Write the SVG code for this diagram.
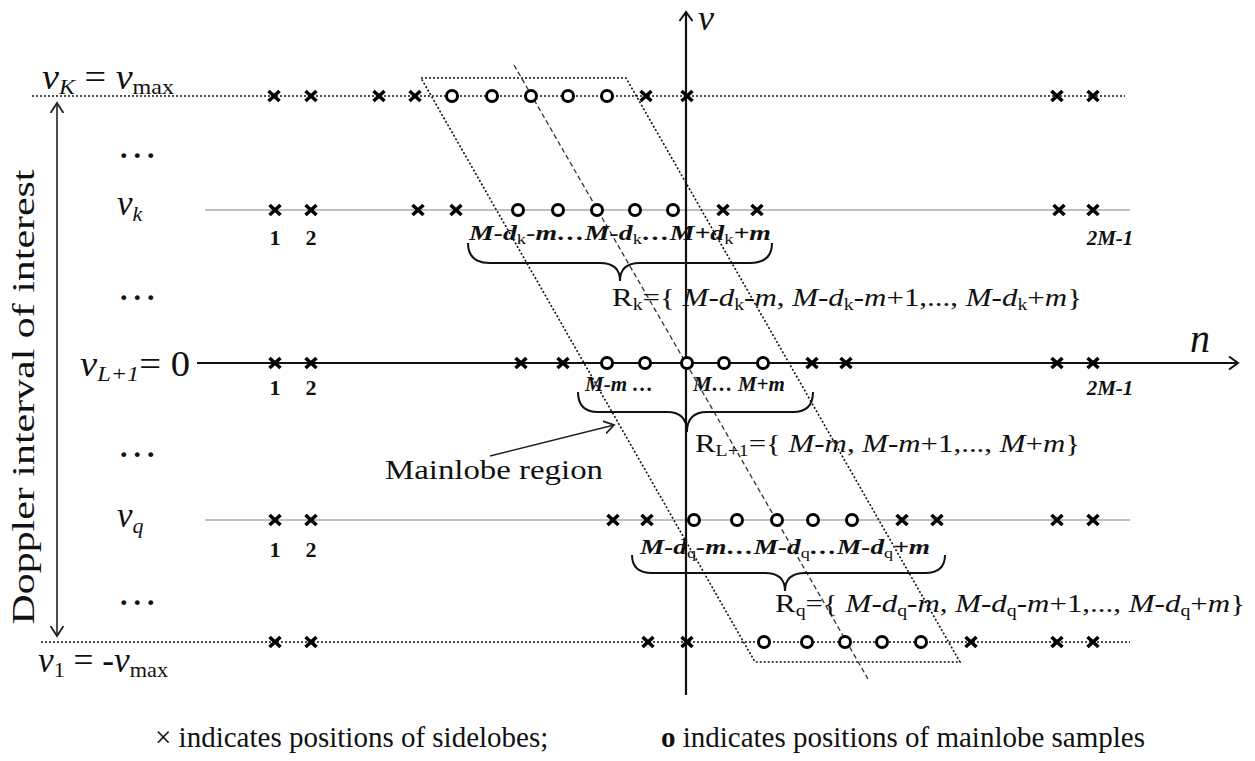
<svg xmlns="http://www.w3.org/2000/svg" width="1255" height="761" viewBox="0 0 1255 761">
<style>
text{font-family:"Liberation Serif","DejaVu Serif",serif;fill:#111}
.it{font-style:italic}
.bi{font-style:italic;font-weight:bold;font-size:21px}
.num{font-weight:bold;font-size:22px}
.big{font-size:35px}
.r{font-size:25px}
.dots{font-size:30px;font-weight:bold;letter-spacing:6px}
.dot{fill:none;stroke:#111;stroke-width:1.6;stroke-dasharray:2 2}
.gray{stroke:#aaa;stroke-width:1.5;fill:none}
.ax{stroke:#111;stroke-width:2.2;fill:none}
.thin{stroke:#222;stroke-width:1.6;fill:none}
.brace{stroke:#111;stroke-width:2;fill:none}
.dsh{stroke:#333;stroke-width:1.3;stroke-dasharray:5 3;fill:none}
.leg{font-size:29px}
</style>
<defs>
<path id="cx" d="M-5.5,-5L5.5,5M-5.5,5L5.5,-5" stroke="#000" stroke-width="3.6"/>
<circle id="co" r="5.5" fill="#fff" stroke="#000" stroke-width="3"/>
<marker id="chev" viewBox="-10 -8 12 16" refX="0" refY="0" markerWidth="12" markerHeight="16" markerUnits="userSpaceOnUse" orient="auto">
<path d="M-9,-6.5L0,0L-9,6.5" fill="none" stroke="#111" stroke-width="2"/>
</marker>
<marker id="chevs" viewBox="-10 -8 12 16" refX="0" refY="0" markerWidth="12" markerHeight="16" markerUnits="userSpaceOnUse" orient="auto-start-reverse">
<path d="M-10,-6.5L0,0L-10,6.5" fill="none" stroke="#222" stroke-width="1.8"/>
</marker>
</defs>
<rect width="1255" height="761" fill="#fff"/>

<g id="connectors">
<line class="dot" x1="32" y1="96" x2="1125" y2="96"/>
<line class="gray" x1="205" y1="210" x2="1130" y2="210"/>
<line class="ax" x1="197" y1="363" x2="1238" y2="363" marker-end="url(#chev)"/>
<line class="gray" x1="205" y1="520" x2="1130" y2="520"/>
<line class="dot" x1="41" y1="642" x2="1130" y2="642"/>
<line class="ax" x1="686" y1="695" x2="686" y2="12" marker-end="url(#chev)"/>
<line class="thin" x1="57" y1="103" x2="57" y2="636" marker-start="url(#chevs)" marker-end="url(#chevs)"/>
<path class="dot" d="M421,78L626,78L960,662L755,662Z"/>
<line class="dsh" x1="514" y1="65" x2="868" y2="679"/>
<line class="thin" x1="490" y1="456" x2="614" y2="425" marker-end="url(#chevs)"/>
<path class="brace" d="M468,243Q468,263 490,263L600,263Q620,263 620,281Q620,263 640,263L750,263Q772,263 772,243"/>
<path class="brace" d="M578,392Q578,412 598,412L667,412Q687,412 687,432Q687,412 707,412L793,412Q813,412 813,392"/>
<path class="brace" d="M632,555Q632,573 652,573L765,573Q785,573 785,591Q785,573 805,573L925,573Q945,573 945,555"/>
</g>

<g id="row-top">
<use href="#cx" x="274" y="96"/><use href="#cx" x="311" y="96"/><use href="#cx" x="379" y="96"/><use href="#cx" x="415" y="96"/>
<use href="#co" x="452" y="96"/><use href="#co" x="492" y="96"/><use href="#co" x="531" y="96"/><use href="#co" x="568" y="96"/><use href="#co" x="607" y="96"/>
<use href="#cx" x="646" y="96"/><use href="#cx" x="687" y="96"/>
<use href="#cx" x="1057" y="96"/><use href="#cx" x="1093" y="96"/>
</g>

<g id="row-k">
<use href="#cx" x="275" y="210"/><use href="#cx" x="311" y="210"/><use href="#cx" x="418" y="210"/><use href="#cx" x="456" y="210"/>
<use href="#co" x="518" y="210"/><use href="#co" x="558" y="210"/><use href="#co" x="597" y="210"/><use href="#co" x="635" y="210"/><use href="#co" x="673" y="210"/>
<use href="#cx" x="723" y="210"/><use href="#cx" x="757" y="210"/>
<use href="#cx" x="1059" y="210"/><use href="#cx" x="1093" y="210"/>
<text class="num" x="275" y="245" text-anchor="middle">1</text>
<text class="num" x="311" y="245" text-anchor="middle">2</text>
<text class="bi" x="1110" y="245" text-anchor="middle" font-size="22">2M-1</text>
<text class="bi" x="469" y="240" textLength="302" lengthAdjust="spacingAndGlyphs">M-d<tspan font-size="14" font-weight="normal" font-style="normal" dy="4">k</tspan><tspan dy="-4">-m…M-d</tspan><tspan font-size="14" font-weight="normal" font-style="normal" dy="4">k</tspan><tspan dy="-4">…M+d</tspan><tspan font-size="14" font-weight="normal" font-style="normal" dy="4">k</tspan><tspan dy="-4">+m</tspan></text>
<text class="r" x="612" y="306" textLength="470" lengthAdjust="spacingAndGlyphs">R<tspan font-size="16" dy="4">k</tspan><tspan dy="-4">={ </tspan><tspan class="it">M</tspan>-<tspan class="it">d</tspan><tspan font-size="16" dy="4">k</tspan><tspan dy="-4">-</tspan><tspan class="it">m</tspan>, <tspan class="it">M</tspan>-<tspan class="it">d</tspan><tspan font-size="16" dy="4">k</tspan><tspan dy="-4">-</tspan><tspan class="it">m</tspan>+1,..., <tspan class="it">M</tspan>-<tspan class="it">d</tspan><tspan font-size="16" dy="4">k</tspan><tspan dy="-4">+</tspan><tspan class="it">m</tspan>}</text>
</g>

<g id="row-L1">
<use href="#cx" x="275" y="363"/><use href="#cx" x="311" y="363"/><use href="#cx" x="521" y="363"/><use href="#cx" x="563" y="363"/>
<use href="#co" x="607" y="363"/><use href="#co" x="645" y="363"/><use href="#co" x="687" y="363"/><use href="#co" x="724" y="363"/><use href="#co" x="763" y="363"/>
<use href="#cx" x="812" y="363"/><use href="#cx" x="846" y="363"/>
<use href="#cx" x="1057" y="363"/><use href="#cx" x="1093" y="363"/>
<text class="num" x="275" y="395" text-anchor="middle">1</text>
<text class="num" x="311" y="395" text-anchor="middle">2</text>
<text class="bi" x="1110" y="395" text-anchor="middle" font-size="22">2M-1</text>
<text class="bi" x="585" y="391" font-size="22">M-m …</text>
<text class="bi" x="693" y="391" font-size="22">M… M+m</text>
<text class="r" x="695" y="452" textLength="385" lengthAdjust="spacingAndGlyphs">R<tspan font-size="16" dy="4">L+1</tspan><tspan dy="-4">={ </tspan><tspan class="it">M</tspan>-<tspan class="it">m</tspan>, <tspan class="it">M</tspan>-<tspan class="it">m</tspan>+1,..., <tspan class="it">M</tspan>+<tspan class="it">m</tspan>}</text>
</g>

<g id="row-q">
<use href="#cx" x="275" y="520"/><use href="#cx" x="311" y="520"/><use href="#cx" x="613" y="520"/><use href="#cx" x="647" y="520"/>
<use href="#co" x="694" y="520"/><use href="#co" x="737" y="520"/><use href="#co" x="777" y="520"/><use href="#co" x="813" y="520"/><use href="#co" x="852" y="520"/>
<use href="#cx" x="902" y="520"/><use href="#cx" x="937" y="520"/>
<use href="#cx" x="1057" y="520"/><use href="#cx" x="1093" y="520"/>
<text class="num" x="275" y="557" text-anchor="middle">1</text>
<text class="num" x="311" y="557" text-anchor="middle">2</text>
<text class="bi" x="640" y="554" textLength="290" lengthAdjust="spacingAndGlyphs">M-d<tspan font-size="14" font-weight="normal" font-style="normal" dy="4">q</tspan><tspan dy="-4">-m…M-d</tspan><tspan font-size="14" font-weight="normal" font-style="normal" dy="4">q</tspan><tspan dy="-4">…M-d</tspan><tspan font-size="14" font-weight="normal" font-style="normal" dy="4">q</tspan><tspan dy="-4">+m</tspan></text>
<text class="r" x="775" y="612" textLength="470" lengthAdjust="spacingAndGlyphs">R<tspan font-size="16" dy="4">q</tspan><tspan dy="-4">={ </tspan><tspan class="it">M</tspan>-<tspan class="it">d</tspan><tspan font-size="16" dy="4">q</tspan><tspan dy="-4">-</tspan><tspan class="it">m</tspan>, <tspan class="it">M</tspan>-<tspan class="it">d</tspan><tspan font-size="16" dy="4">q</tspan><tspan dy="-4">-</tspan><tspan class="it">m</tspan>+1,..., <tspan class="it">M</tspan>-<tspan class="it">d</tspan><tspan font-size="16" dy="4">q</tspan><tspan dy="-4">+</tspan><tspan class="it">m</tspan>}</text>
</g>

<g id="row-bottom">
<use href="#cx" x="275" y="642"/><use href="#cx" x="311" y="642"/><use href="#cx" x="648" y="642"/><use href="#cx" x="687" y="642"/>
<use href="#co" x="764" y="642"/><use href="#co" x="807" y="642"/><use href="#co" x="845" y="642"/><use href="#co" x="882" y="642"/><use href="#co" x="921" y="642"/>
<use href="#cx" x="971" y="642"/>
<use href="#cx" x="1057" y="642"/><use href="#cx" x="1093" y="642"/>
</g>

<g id="left-labels">
<text class="big" x="42" y="89" textLength="132" lengthAdjust="spacingAndGlyphs"><tspan class="it">v</tspan><tspan class="it" font-size="22" dy="5">K</tspan><tspan dy="-5"> = </tspan><tspan class="it">v</tspan><tspan font-size="22" dy="5">max</tspan></text>
<text class="big" x="117" y="215"><tspan class="it">v</tspan><tspan class="it" font-size="22" dy="6">k</tspan></text>
<text class="big" x="80" y="376" textLength="110" lengthAdjust="spacingAndGlyphs"><tspan class="it">v</tspan><tspan class="it" font-size="22" dy="5">L+1</tspan><tspan dy="-5">= 0</tspan></text>
<text class="big" x="117" y="527"><tspan class="it">v</tspan><tspan class="it" font-size="22" dy="6">q</tspan></text>
<text class="big" x="38" y="672" textLength="130" lengthAdjust="spacingAndGlyphs"><tspan class="it">v</tspan><tspan font-size="22" dy="5">1</tspan><tspan dy="-5"> = -</tspan><tspan class="it">v</tspan><tspan font-size="22" dy="5">max</tspan></text>
<text class="dots" x="120" y="158">...</text>
<text class="dots" x="120" y="300">...</text>
<text class="dots" x="120" y="457">...</text>
<text class="dots" x="120" y="605">...</text>
<text font-size="31" transform="translate(34,397) rotate(-90)" text-anchor="middle" textLength="455" lengthAdjust="spacingAndGlyphs">Doppler interval of interest</text>
</g>

<g id="axis-labels">
<text class="it" font-size="40" x="1190" y="352">n</text>
<text class="it" font-size="36" x="698" y="30">v</text>
</g>

<g id="mainlobe-label">
<text font-size="27" x="385" y="479" textLength="218" lengthAdjust="spacingAndGlyphs">Mainlobe region</text>
</g>

<g id="legend">
<text class="leg" x="155" y="747">× indicates positions of sidelobes;</text>
<text class="leg" x="1145" y="747" text-anchor="end"><tspan font-weight="bold">o</tspan> indicates positions of mainlobe samples</text>
</g>
</svg>
